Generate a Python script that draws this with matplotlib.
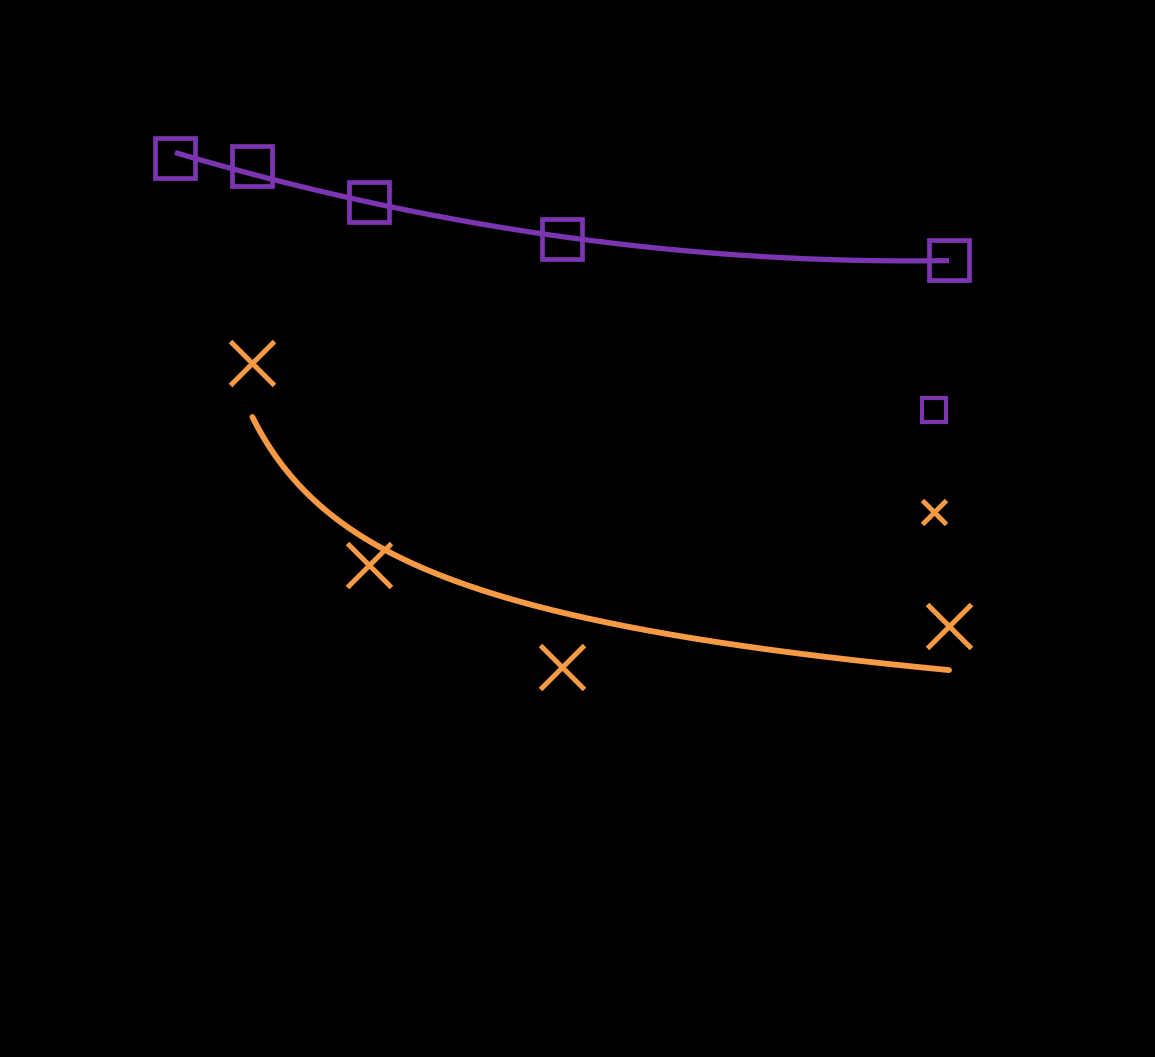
import numpy as np
import matplotlib
matplotlib.use("Agg")
import matplotlib.pyplot as plt
from matplotlib.lines import Line2D

# measurements at each time point
t_a = [0, 1, 2.5, 5, 10]
vals_a = [92.75, 91.7, 87.2, 82.6, 80.0]

t_b = [1, 2.5, 5, 10]
vals_b = [67.1, 41.9, 29.1, 34.25]

series_names = ["Group A", "Group B"]

purple = "#7b35b0"
orange = "#f79a45"

fig = plt.figure(figsize=(11.55, 10.57), dpi=100, facecolor="black")
ax = fig.add_axes([0.0845, 0.1485, 0.8042, 0.7569])
ax.set_facecolor("black")

# quadratic trend for A, power law for B
pa = np.polyfit(t_a, vals_a, 2)
xa = np.linspace(0, 10, 200)
ax.plot(xa, np.polyval(pa, xa), color=purple, lw=3.8, solid_capstyle="butt", zorder=2)

pb = np.polyfit(np.log(t_b), np.log(vals_b), 1)
xb = np.linspace(1, 10, 200)
ax.plot(xb, np.exp(pb[1]) * xb ** pb[0], color=orange, lw=4.2, solid_capstyle="round", zorder=2)

ax.plot(t_a, vals_a, ls="none", marker="s", ms=29, mfc="none", mec=purple, mew=3.4, zorder=3)
ax.plot(t_b, vals_b, ls="none", marker="x", ms=31, mec=orange, mew=3.6, zorder=3)

ax.set_xlim(-1, 11)
ax.set_ylim(0, 100)
for s in ax.spines.values():
    s.set_color("black")
ax.tick_params(colors="black")
ax.set_xlabel("Time", color="black")
ax.set_ylabel("Value", color="black")

handles = [
    Line2D([], [], ls="none", marker="s", ms=17, mfc="none", mec=purple, mew=3),
    Line2D([], [], ls="none", marker="x", ms=17, mec=orange, mew=3.5),
]
leg = ax.legend(handles, series_names, loc="center left",
                bbox_to_anchor=(906 / 1155, 1 - 462.5 / 1057),
                bbox_transform=fig.transFigure, frameon=False,
                fontsize=20, labelspacing=2.68, handlelength=1.0,
                handletextpad=0.5, borderpad=0)
for txt in leg.get_texts():
    txt.set_color("black")

fig.savefig("out.png", dpi=100, facecolor="black")
